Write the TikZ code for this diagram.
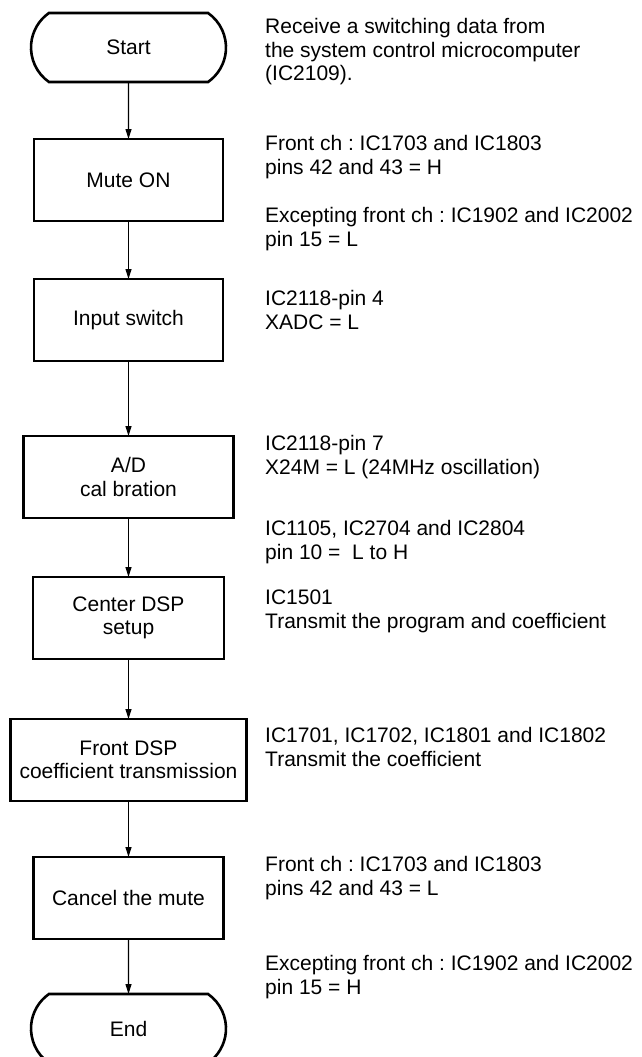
\documentclass[tikz,border=0pt]{standalone}
\usepackage{fontspec}
\setmainfont{Liberation Sans}
\usetikzlibrary{shapes.misc,arrows.meta,positioning}
\frenchspacing
\tikzset{
    term/.style={rounded rectangle, rounded rectangle arc length=110, draw, line width=2.6pt, outer sep=0pt, minimum width=195pt, minimum height=69pt, inner sep=0pt, align=center},
    proc/.style={rectangle, draw, line width=2.8pt, outer sep=0pt, minimum height=82pt, inner sep=0pt, align=center},
    note/.style={anchor=base west, align=left, inner sep=0pt},
    flow/.style={-{Triangle[length=10pt, width=6pt]}, line width=1.1pt},
}

\begin{document}
\begin{tikzpicture}[x=1pt, y=-1pt, node distance=57pt, font=\fontsize{21}{23.5}\selectfont]
    \useasboundingbox (0,0) rectangle (641,1057);
    \node[term] (start) at (128.5,47.5) {Start};
    \node[proc, minimum width=189pt, below=of start] (mute) {Mute ON};
    \node[proc, minimum width=189pt, below=58pt of mute] (input) {Input switch};
    \node[proc, minimum width=210pt, below=75pt of input] (ad) {A/D\\cal bration};
    \node[proc, minimum width=191pt, below=59pt of ad] (center) {Center DSP\\setup};
    \node[proc, minimum width=236pt, below=60pt of center] (front) {Front DSP\\coefficient transmission};
    \node[proc, minimum width=190pt, below=56pt of front] (cancel) {Cancel the mute};
    \node[term, below=55pt of cancel] (end) {End};

    % notes on the right (placed at the baseline of their last line)
    \node[note] (n1) at (265,80.5) {Receive a switching data from\\the system control microcomputer\\(IC2109).};
    \node[note] (n2) at (265,174) {Front ch : IC1703 and IC1803\\pins 42 and 43 = H};
    \node[note] (n3) at (265,246) {Excepting front ch : IC1902 and IC2002\\pin 15 = L};
    \node[note] (n4) at (265,329) {IC2118-pin 4\\XADC = L};
    \node[note] (n5) at (265,474) {IC2118-pin 7\\X24M = L (24MHz oscillation)};
    \node[note] (n6) at (265,559) {IC1105, IC2704 and IC2804\\pin 10 = \ L to H};
    \node[note] (n7) at (265,628) {IC1501\\Transmit the program and coefficient};
    \node[note] (n8) at (265,766) {IC1701, IC1702, IC1801 and IC1802\\Transmit the coefficient};
    \node[note] (n9) at (265,895) {Front ch : IC1703 and IC1803\\pins 42 and 43 = L};
    \node[note] (n10) at (265,994) {Excepting front ch : IC1902 and IC2002\\pin 15 = H};

    \foreach \x/\y in {start/mute, mute/input, input/ad, ad/center, center/front, front/cancel, cancel/end} \draw[flow] (\x) -- (\y);
\end{tikzpicture}
\end{document}
